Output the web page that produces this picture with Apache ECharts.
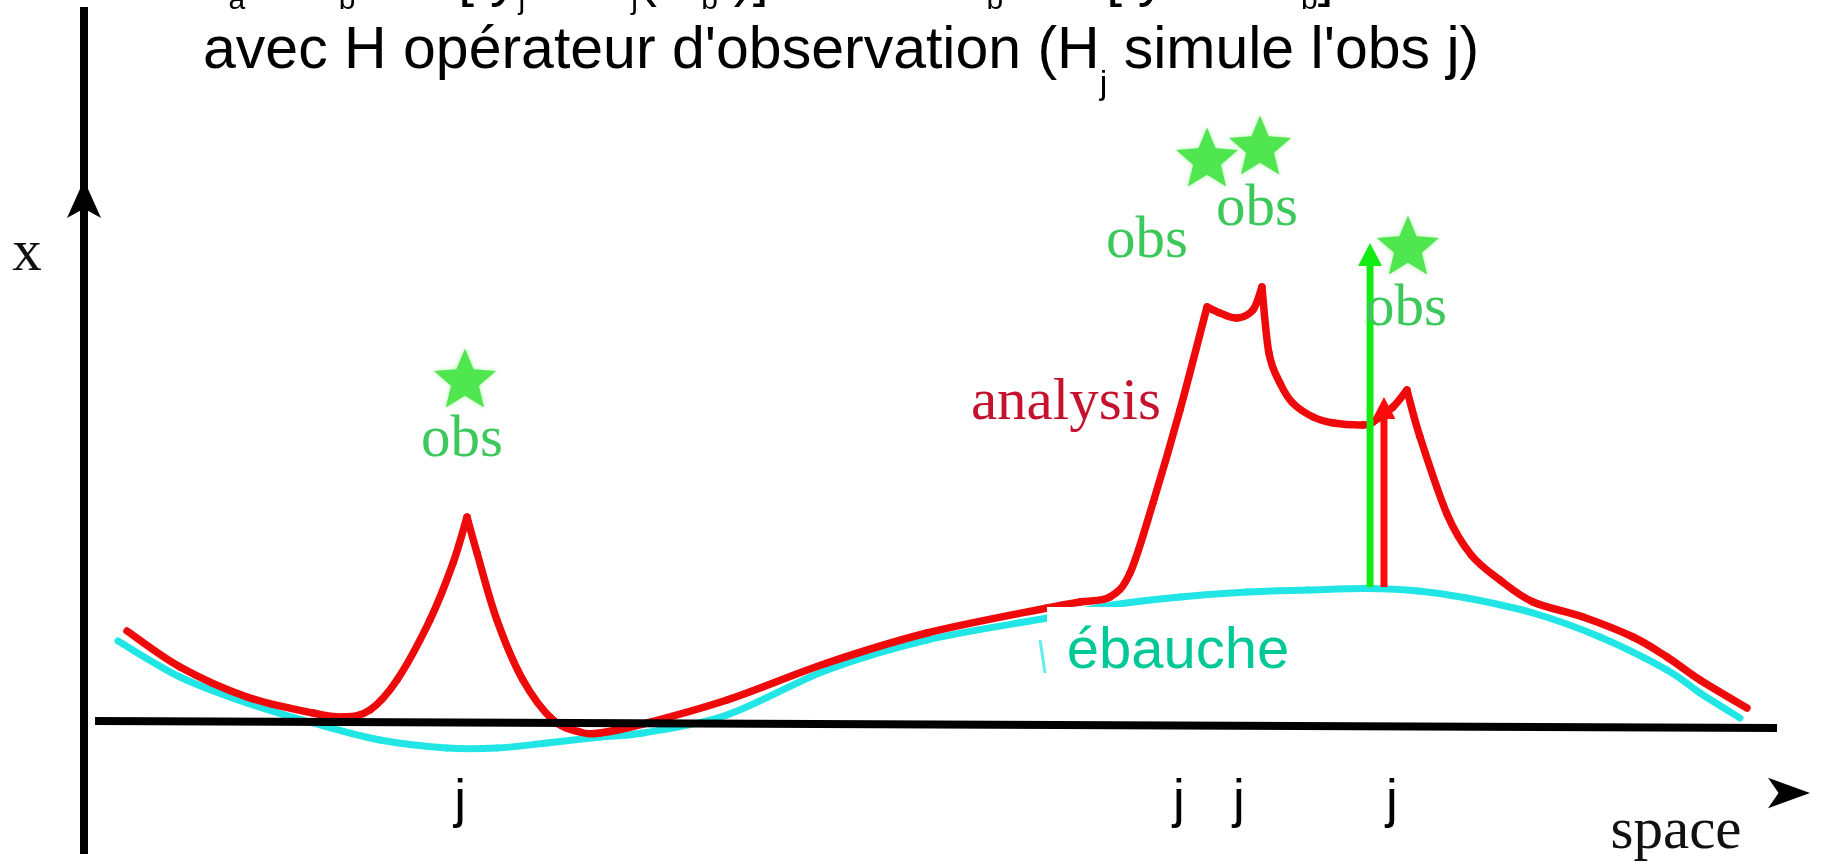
<!DOCTYPE html>
<html>
<head>
<meta charset="utf-8">
<title>ébauche et analyse</title>
<script src="https://cdn.jsdelivr.net/npm/echarts@6/dist/echarts.min.js"></script>
<style>
html,body{margin:0;padding:0;background:#fff;}
#chart{width:1822px;height:863px;}
</style>
</head>
<body>
<div id="chart"></div>
<script>
// x : "space" units (0..100 across the frame), y : state units (0 on the baseline)
var ebaucheX = [2.0, 5.65, 9.59, 13.47, 17.41, 21.35, 24.29, 27.24, 30.35, 32.88, 37.82, 43.71, 49.59, 56.65, 60.53, 64.5, 68.41, 72.0, 75.47, 78.5, 81.35, 85.24, 89.18, 93.12, 95.06, 97.41];
var ebaucheY = [16.8, 9.6, 4.4, 0.4, -3.0, -4.6, -4.6, -3.6, -2.4, -1.6, 2.0, 11.0, 17.0, 21.4, 24.0, 25.6, 26.6, 27.0, 27.3, 26.8, 25.4, 22.4, 17.6, 11.0, 6.4, 1.4];

var analysisX = [2.53, 5.65, 9.59, 13.47, 15.24, 16.82, 18.41, 20.35, 21.71, 22.53, 23.12, 24.29, 25.82, 27.59, 29.18, 30.35, 32.88, 37.82, 43.71, 49.59, 56.65, 58.6, 60.35, 61.53, 62.88, 64.47, 66.06, 66.82, 67.82, 68.76, 69.29, 69.7, 70.35, 71.1, 72.3, 73.5, 75.24, 75.82, 77.0, 77.82, 78.59, 80.2, 81.6, 83.29, 85.24, 88.18, 91.12, 93.12, 95.06, 97.82];
var analysisY = [18.8, 11.6, 5.6, 2.4, 1.6, 3.0, 9.0, 21.0, 32.4, 41.6, 34.4, 21.0, 9.0, 1.0, -1.4, -1.6, 0.2, 5.0, 12.4, 18.4, 23.4, 24.6, 25.6, 30.4, 44.4, 63.0, 83.6, 82.4, 81.4, 83.0, 87.6, 74.4, 68.4, 64.4, 61.6, 60.4, 60.0, 60.6, 63.6, 67.0, 57.6, 42.0, 34.0, 29.0, 24.6, 21.6, 17.6, 13.6, 9.0, 3.4];
// indexes of the cusps (the analysis is pulled to each obs there)
var analysisCusps = [9, 26, 30, 39];

// observations (stars) and their labels
var obsX = [22.41, 66.06, 69.18, 77.88];
var obsY = [69.4, 113.6, 116.0, 96.0];
var obsLabelX = [22.24, 62.53, 69.0, 77.76];
var obsLabelY = [57.0, 96.8, 103.2, 83.2];
var jTickX = [22.12, 64.41, 67.94, 76.94];
var jTickY = [-15.4, -15.4, -15.4, -15.4];

// y_j - H_j(x_b) (green) and the increment given to x_b (red)
var arrowX = [75.65, 76.47];
var arrowBase = [27.6, 27.6];
var arrowShaftTop = [92.0, 61.4];
var arrowTip = [96.4, 65.6];

// frame: the two axis lines and the tips of their arrow heads
var yAxisLine = [[0, -25.8], [0, 143.6]];
var xAxisLine = [[0.65, 0.8], [99.59, -0.6]];
var yArrowTip = [0, 109.0];
var xArrowTip = [101.53, -13.6];

var chart = echarts.init(document.getElementById('chart'));

var RED = '#ee0a0a';
var CYAN = '#22e6e6';
var OBS_GREEN = '#3cc85a';
var STAR_GREEN = '#50e650';
var STAR = 'path://M50,0L63.23,31.8L97.55,34.55L71.4,56.95L79.39,90.45L50,72.5L20.61,90.45L28.6,56.95L2.45,34.55L36.77,31.8Z';

function zip(xs, ys) {
    var out = [];
    for (var i = 0; i < xs.length; i++) out.push([xs[i], ys[i]]);
    return out;
}

// catmull-rom through the points, drawn as bezier pieces in pixel space
function smoothCurve(points, api, style) {
    var p = points.map(function (d) { return api.coord(d); });
    var children = [];
    for (var i = 0; i < p.length - 1; i++) {
        var p0 = p[Math.max(i - 1, 0)], p1 = p[i], p2 = p[i + 1], p3 = p[Math.min(i + 2, p.length - 1)];
        children.push({
            type: 'bezierCurve',
            shape: {
                x1: p1[0], y1: p1[1], x2: p2[0], y2: p2[1],
                cpx1: p1[0] + (p2[0] - p0[0]) / 6, cpy1: p1[1] + (p2[1] - p0[1]) / 6,
                cpx2: p2[0] - (p3[0] - p1[0]) / 6, cpy2: p2[1] - (p3[1] - p1[1]) / 6
            },
            style: style
        });
    }
    return { type: 'group', children: children };
}

function curveSeries(pieces, color, width, z) {
    return {
        type: 'custom', clip: false, z: z,
        data: pieces.map(function (pc) { return [pc[0][0], pc[0][1]]; }),
        renderItem: function (params, api) {
            return smoothCurve(pieces[params.dataIndex], api, { stroke: color, lineWidth: width, fill: null, lineCap: 'round' });
        }
    };
}

var series = [];

series.push(curveSeries([zip(ebaucheX, ebaucheY)], CYAN, 7, 1));
// small leftover tick of the background curve near the label
series.push({
    type: 'line', data: [[56.24, 17.0], [56.53, 10.4]], symbol: 'none', clip: false, z: 1,
    lineStyle: { color: CYAN, width: 3, opacity: 0.7 }
});

var analysisPoints = zip(analysisX, analysisY);
var analysisPieces = [];
var start = 0;
analysisCusps.concat([analysisX.length - 1]).forEach(function (end) {
    analysisPieces.push(analysisPoints.slice(start, end + 1));
    start = end;
});
series.push(curveSeries(analysisPieces, RED, 7.5, 2));

// axes as plain lines
[yAxisLine, xAxisLine].forEach(function (pts) {
    series.push({
        type: 'line', data: pts, symbol: 'none', clip: false, z: 3,
        lineStyle: { color: '#000', width: 8 }
    });
});
series.push({
    type: 'scatter', data: [yArrowTip], symbol: 'arrow', symbolSize: [25.5, 38], clip: false, z: 3,
    itemStyle: { color: '#000', opacity: 1 }
});
series.push({
    type: 'scatter', data: [xArrowTip], symbol: 'arrow', symbolSize: [23, 42], symbolRotate: -90, clip: false, z: 3,
    itemStyle: { color: '#000', opacity: 1 }
});

// the two vertical arrows
var arrowColors = ['#12ec12', '#ff0b0b'];
var headSizes = [[24, 23], [23, 22]];
arrowX.forEach(function (x, i) {
    series.push({
        type: 'line', data: [[x, arrowBase[i]], [x, arrowShaftTop[i]]], symbol: 'none', clip: false, z: 4,
        lineStyle: { color: arrowColors[i], width: 7 }
    });
    series.push({
        type: 'scatter', data: [[x, arrowTip[i]]], symbol: 'triangle', symbolSize: headSizes[i],
        symbolOffset: [0, '50%'], clip: false, z: 4, itemStyle: { color: arrowColors[i], opacity: 1 }
    });
});

// observations
series.push({
    type: 'scatter', data: zip(obsX, obsY), symbol: STAR, symbolSize: [62, 59], clip: false, z: 4,
    itemStyle: { color: STAR_GREEN, opacity: 1, shadowColor: 'rgba(120,240,120,0.6)', shadowBlur: 4 }
});

function textSeries(points, text, font, z) {
    return {
        type: 'scatter', data: points, symbolSize: 0, clip: false, z: z || 5,
        itemStyle: { color: 'rgba(0,0,0,0)', opacity: 1 },
        label: Object.assign({ show: true, position: 'inside', formatter: text }, font)
    };
}

var serif = { fontFamily: 'Liberation Serif', fontSize: 59 };
series.push(textSeries(zip(obsLabelX, obsLabelY), 'obs', Object.assign({ color: OBS_GREEN }, serif)));
series.push(textSeries([[57.76, 64.4]], 'analysis', Object.assign({ color: '#c4122f' }, serif)));
series.push(textSeries([[-3.35, 94.2]], 'x', Object.assign({ color: '#111' }, serif)));
series.push(textSeries([[93.65, -21.4]], 'space', Object.assign({ color: '#111' }, serif)));
series.push(textSeries(zip(jTickX, jTickY), 'j', { color: '#000', fontFamily: 'Liberation Sans', fontSize: 53 }));

// white box that hides the background curve under its label
series.push({
    type: 'scatter', data: [[64.47, 15.4]], symbol: 'rect', symbolSize: [266, 82], clip: false, z: 19,
    itemStyle: { color: '#fff', opacity: 1 }, silent: true
});
series.push(textSeries([[64.35, 14.6]], 'ébauche', {
    color: '#00c896', fontFamily: 'Liberation Sans', fontSize: 58
}, 20));

var formulaTxt = { fontSize: 57, lineHeight: 57, verticalAlign: 'top', fontFamily: 'Liberation Sans', fill: '#000' };
var formulaSub = { fontSize: 30, lineHeight: 99, fontFamily: 'Liberation Sans', fill: '#000' };

var option = {
    animation: false,
    backgroundColor: '#fff',
    grid: { left: 84, top: 225, width: 1700, height: 500 },
    xAxis: { type: 'value', min: 0, max: 100, show: false },
    yAxis: { type: 'value', min: 0, max: 100, show: false },
    graphic: [
        {
            type: 'text', x: 200, y: -49, z: 10,
            style: {
                text: '{m|x}{s|a}{m| = x}{s|b}{m| + K[ y}{s|j}{m| \u2212 H}{s|j}{m|( x}{s|b}{m| )]}',
                rich: { m: formulaTxt, s: formulaSub }
            }
        },
        {
            type: 'text', x: 958, y: -49, z: 10,
            style: {
                text: '{m|x}{s|b}{m| + K[ y \u2212 Hx}{s|b}{m|]}',
                rich: { m: formulaTxt, s: formulaSub }
            }
        },
        {
            type: 'text', x: 203, y: 22, z: 10,
            style: {
                text: "{m|avec H opérateur d'observation (H}{s|j}{m| simule l'obs j)}",
                rich: {
                    m: { fontSize: 59, lineHeight: 59, verticalAlign: 'top', fontFamily: 'Liberation Sans', fill: '#000' },
                    s: { fontSize: 34, lineHeight: 126, fontFamily: 'Liberation Sans', fill: '#000' }
                }
            }
        }
    ],
    series: series
};

chart.setOption(option);
window.addEventListener('resize', function () { chart.resize(); });
</script>
</body>
</html>
